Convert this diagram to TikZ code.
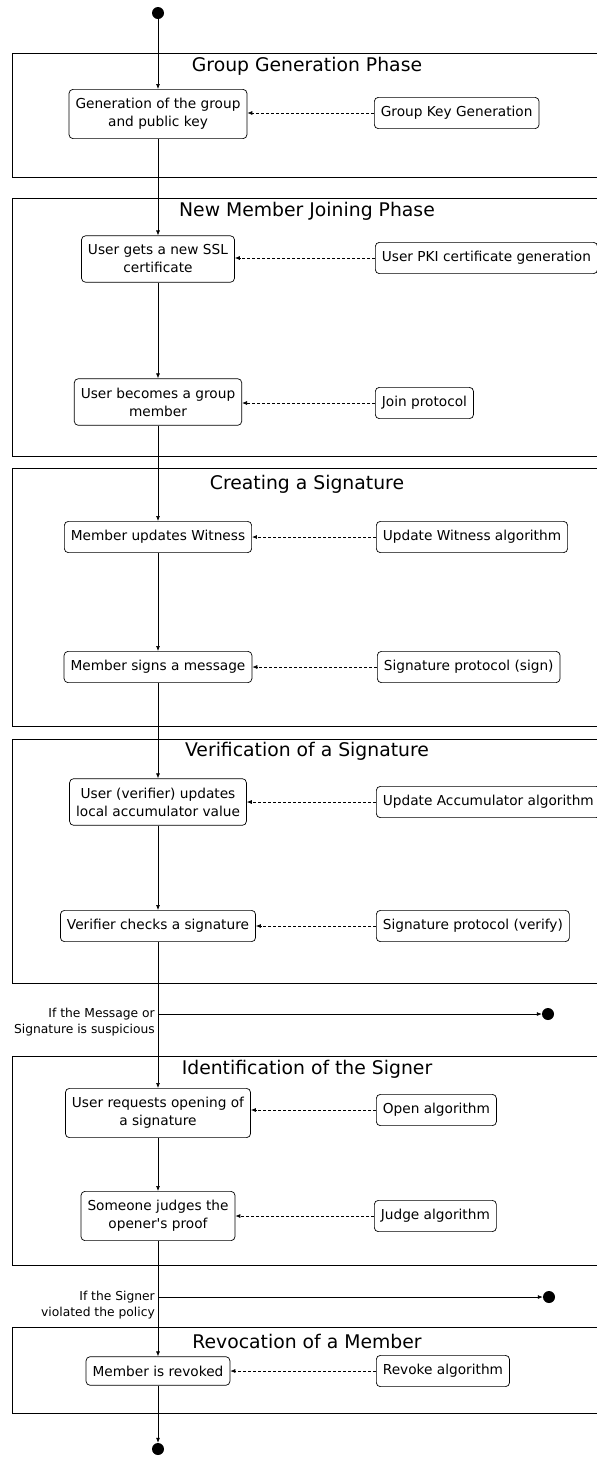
\documentclass[tikz,border=0pt]{standalone}
\usepackage{fontspec}
\setmainfont{DejaVu Sans}
\usetikzlibrary{arrows.meta, positioning}

\begin{document}
\begin{tikzpicture}[x=1pt,y=-1pt,
    >={Latex[length=5pt,width=4pt]},
    action/.style={draw, rounded corners=4pt, align=center, line width=0.7pt,
      font=\fontsize{13.7}{18}\selectfont, inner xsep=6.5pt, inner ysep=9pt},
    algo/.style={action, anchor=west},
    phase/.style={draw, line width=0.8pt},
    title/.style={font=\fontsize{18.8}{22}\selectfont},
    dot/.style={circle, fill, inner sep=0pt, minimum size=12pt},
    cond/.style={align=right, anchor=east, inner sep=1pt,
      font=\fontsize{12.3}{16}\selectfont},
    flow/.style={->, line width=0.7pt},
    uses/.style={->, densely dashed, line width=0.7pt}]
  \useasboundingbox (0,0) rectangle (597,1457);
  \clip (0,0) rectangle (597,1457);

  % phases
  \draw[phase] (12,53) rectangle (603,177);
  \node[title] at (307,66) {Group Generation Phase};
  \draw[phase] (12,198) rectangle (603,456);
  \node[title] at (307,211) {New Member Joining Phase};
  \draw[phase] (12,468) rectangle (603,726);
  \node[title] at (307,484) {Creating a Signature};
  \draw[phase] (12,739) rectangle (603,983);
  \node[title] at (307,751) {Verification of a Signature};
  \draw[phase] (12,1056) rectangle (603,1265);
  \node[title] at (307,1069) {Identification of the Signer};
  \draw[phase] (12,1327) rectangle (603,1413);
  \node[title] at (307,1341) {Revocation of a Member};

  % main flow
  \node[dot] (start) at (158,13) {};
  \node[action] (gen) at (158,114) {Generation of the group\\and public key};
  \node[action] (ssl) at (158,259) {User gets a new SSL\\certificate};
  \node[action] (member) at (158,402) {User becomes a group\\member};
  \node[action] (witness) at (158,537) {Member updates Witness};
  \node[action] (sign) at (158,667) {Member signs a message};
  \node[action] (acc) at (158,802) {User (verifier) updates\\local accumulator value};
  \node[action] (check) at (158,926) {Verifier checks a signature};
  \node[action] (open) at (158,1113) {User requests opening of\\a signature};
  \node[action] (judge) at (158,1216) {Someone judges the\\opener\textquotesingle s proof};
  \node[action] (revoked) at (158,1371) {Member is revoked};
  \node[dot] (finish) at (158,1449) {};

  % algorithms
  \node[algo] (gkg) at (374,113) {Group Key Generation};
  \node[algo] (pki) at (375,258) {User PKI certificate generation};
  \node[algo] (join) at (375,403) {Join protocol};
  \node[algo] (uwa) at (376,537) {Update Witness algorithm};
  \node[algo] (sps) at (377,667) {Signature protocol (sign)};
  \node[algo] (uaa) at (376,802) {Update Accumulator algorithm};
  \node[algo] (spv) at (376,926) {Signature protocol (verify)};
  \node[algo] (oa) at (376,1110) {Open algorithm};
  \node[algo] (ja) at (374,1216) {Judge algorithm};
  \node[algo] (ra) at (376,1371) {Revoke algorithm};

  % early exits
  \coordinate (susp) at (158,1014);
  \node[dot] (stop1) at (548,1014) {};
  \node[cond] (suspnote) at (156,1022) {If the Message or\\Signature is suspicious};
  \coordinate (viol) at (158,1297);
  \node[dot] (stop2) at (549,1297) {};
  \node[cond] (violnote) at (156,1305) {If the Signer\\violated the policy};

  \path[flow]
    (start) edge (gen)
    (gen) edge (ssl)
    (ssl) edge (member)
    (member) edge (witness)
    (witness) edge (sign)
    (sign) edge (acc)
    (acc) edge (check)
    (check) edge (open)
    (open) edge (judge)
    (judge) edge (revoked)
    (revoked) edge (finish)
    (susp) edge (stop1)
    (viol) edge (stop2);

  \path[uses]
    (gkg) edge (gkg -| gen.east)
    (pki) edge (pki -| ssl.east)
    (join) edge (join -| member.east)
    (uwa) edge (uwa -| witness.east)
    (sps) edge (sps -| sign.east)
    (uaa) edge (uaa -| acc.east)
    (spv) edge (spv -| check.east)
    (oa) edge (oa -| open.east)
    (ja) edge (ja -| judge.east)
    (ra) edge (ra -| revoked.east);
\end{tikzpicture}
\end{document}
